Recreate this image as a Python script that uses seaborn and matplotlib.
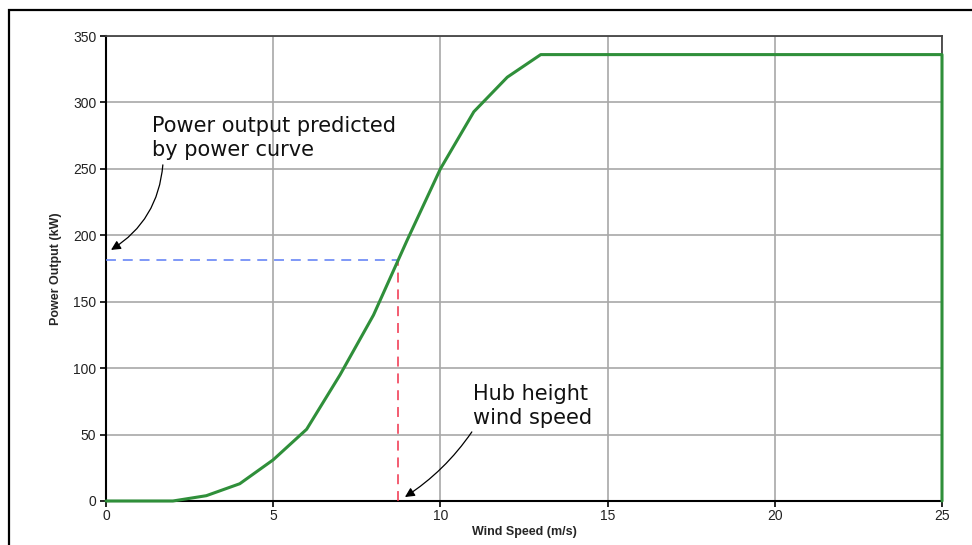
import matplotlib
matplotlib.use("Agg")
import matplotlib.pyplot as plt
from matplotlib.patches import Rectangle
import numpy as np
import pandas as pd
import seaborn as sns

# Turbine power curve (wind speed in m/s, power in kW); cut-out at 25 m/s
wind_speed = [0, 1, 2, 3, 4, 5, 6, 7, 8, 9, 10, 11, 12, 13, 14, 15, 16,
              17, 18, 19, 20, 21, 22, 23, 24, 25, 25]
power_kw = [0, 0, 0, 4, 13, 31, 54, 95, 140, 196, 250, 293, 319, 336, 336,
            336, 336, 336, 336, 336, 336, 336, 336, 336, 336, 336, 0]

hub_wind_speed = 8.74
x_ticks = [0, 5, 10, 15, 20, 25]
y_ticks = [0, 50, 100, 150, 200, 250, 300, 350]
x_label = "Wind Speed (m/s)"
y_label = "Power Output (kW)"
note_power = "Power output predicted\nby power curve"
note_wind = "Hub height\nwind speed"

curve = pd.DataFrame({"wind": wind_speed, "power": power_kw})
hub_power = float(np.interp(hub_wind_speed, wind_speed[:-1], power_kw[:-1]))

sns.set_theme(style="white")
plt.rcParams["font.family"] = ["Liberation Sans", "DejaVu Sans"]

fig = plt.figure(figsize=(9.72, 5.45), dpi=100)
ax = fig.add_axes([106 / 972, 1 - 501 / 545, 836 / 972, 465 / 545])

# outer frame
fig.patches.append(Rectangle((9 / 972, -0.05), 1.0, 1 - 10 / 545 + 0.05,
                             transform=fig.transFigure, fill=False,
                             edgecolor="black", linewidth=1.6, zorder=0))

sns.lineplot(data=curve, x="wind", y="power", sort=False, estimator=None,
             ax=ax, color="#2f8f3a", linewidth=2.2, zorder=4, clip_on=False)

# hub height projection lines
ax.plot([0, hub_wind_speed], [hub_power, hub_power], color="#5b7cf5",
        linewidth=1.1, dashes=(6.5, 4.5), zorder=3)
ax.plot([hub_wind_speed, hub_wind_speed], [0, hub_power], color="#f0304a",
        linewidth=1.1, dashes=(6.5, 4.5), zorder=3)

ax.set_xlim(0, 25)
ax.set_ylim(0, 350)
ax.set_xticks(x_ticks)
ax.set_yticks(y_ticks)
ax.grid(True, color="#a8a8a8", linewidth=1.2)
ax.set_axisbelow(True)

for side in ["left", "bottom"]:
    ax.spines[side].set_color("black")
    ax.spines[side].set_linewidth(1.5)
for side in ["top", "right"]:
    ax.spines[side].set_color("#444444")
    ax.spines[side].set_linewidth(1.3)

ax.tick_params(axis="both", direction="out", length=4, width=1.2,
               color="black", labelsize=10, labelcolor="#222222", pad=3)
ax.tick_params(axis="x", bottom=True, pad=2)
ax.tick_params(axis="y", left=True)

ax.set_xlabel(x_label, fontsize=9, fontweight="bold", labelpad=2)
ax.set_ylabel(y_label, fontsize=9, fontweight="bold", labelpad=8)

note_font = ["DejaVu Sans"]
ax.text(1.38, 273, note_power, fontsize=15, family=note_font,
        color="#111111", ha="left", va="center", linespacing=1.25)
ax.text(10.97, 71.5, note_wind, fontsize=15, family=note_font,
        color="#111111", ha="left", va="center", linespacing=1.25)

arrow_style = dict(arrowstyle="-|>", color="black", lw=0.9,
                   mutation_scale=14, shrinkA=0, shrinkB=0)
ax.annotate("", xy=(0.15, 189), xytext=(1.70, 253),
            arrowprops=dict(arrow_style, connectionstyle="arc3,rad=-0.25"))
ax.annotate("", xy=(8.94, 3), xytext=(10.94, 52),
            arrowprops=dict(arrow_style, connectionstyle="arc3,rad=-0.1"))

fig.savefig("out.png", dpi=100)
